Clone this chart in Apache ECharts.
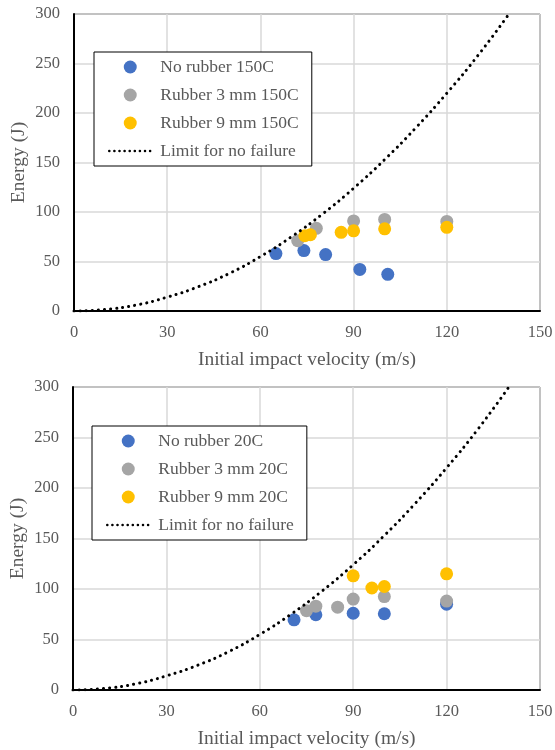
<!DOCTYPE html>
<html><head><meta charset="utf-8">
<script src="https://cdn.jsdelivr.net/npm/echarts@6/dist/echarts.min.js"></script>
<style>html,body{margin:0;padding:0;background:#fff}#c{width:555px;height:750px}</style>
</head><body><div id="c"></div>
<script>
// Panel 1 (150C)
const noRubber150 = [[65,58],[74,61],[81,57],[92,42],[101,37]];
const rubber3_150 = [[72,71],[78,83.5],[90,91],[100,92.5],[120,90.5]];
const rubber9_150 = [[74.3,76],[76.1,77],[86,79.5],[90,81],[100,83],[120,84.5]];
// Panel 2 (20C)
const noRubber20 = [[71,69.5],[78,74.5],[90,76],[100,75.5],[120,85]];
const rubber3_20 = [[75,78.5],[78,83],[85,82],[90,90],[100,92.5],[120,88]];
const rubber9_20 = [[90,113],[96,101],[100,102.5],[120,115]];
// Limit for no failure
const limitCurve = [[0,0],[10,1.5],[20,6],[30,14],[40,24.5],[50,38],[60,55],[70,75],[80,98],[90,124],[100,153],[110,185],[120,220],[130,258],[140,300]];

const names1 = ['No rubber 150C','Rubber 3 mm 150C','Rubber 9 mm 150C','Limit for no failure'];
const names2 = ['No rubber 20C','Rubber 3 mm 20C','Rubber 9 mm 20C','Limit for no failure'];
const colors = ['#4472C4','#A5A5A5','#FFC000'];
const xTicks = {min:0,max:150,interval:30};
const yTicks = {min:0,max:300,interval:50};

const font = 'Liberation Serif';
const grids = [
  {left:74,right:15,top:14,height:297},
  {left:73,right:15,top:387,height:303}
];
const chart = echarts.init(document.getElementById('c'));
function xAxis(i){return {gridIndex:i,type:'value',min:xTicks.min,max:xTicks.max,interval:xTicks.interval,
  name:'Initial impact velocity (m/s)',nameLocation:'middle',nameGap:39,
  nameTextStyle:{color:'#595959',fontFamily:font,fontSize:19.5},
  axisLine:{lineStyle:{color:'#000',width:2}},axisTick:{show:false},
  axisLabel:{color:'#595959',fontFamily:font,fontSize:16.5,margin:13},
  splitLine:{lineStyle:{color:'#D9D9D9',width:1.5}}};}
function yAxis(i){return {gridIndex:i,type:'value',min:yTicks.min,max:yTicks.max,interval:yTicks.interval,
  name:'Energy (J)',nameLocation:'middle',nameGap:45,nameMoveOverlap:false,
  nameTextStyle:{color:'#595959',fontFamily:font,fontSize:19.5},
  axisLine:{show:true,lineStyle:{color:'#000',width:2}},axisTick:{show:false},
  axisLabel:{color:'#595959',fontFamily:font,fontSize:16.5,margin:14},
  splitLine:{lineStyle:{color:'#D9D9D9',width:1.5}}};}
function seriesFor(i,names,sets){
  const s=[];
  sets.forEach((d,k)=>s.push({type:'scatter',name:names[k],xAxisIndex:i,yAxisIndex:i,data:d,symbolSize:13,
    itemStyle:{color:colors[k],opacity:1}}));
  s.push({type:'line',name:names[3],xAxisIndex:i,yAxisIndex:i,data:limitCurve,smooth:true,symbol:'none',
    lineStyle:{color:'#000',width:3,type:[0.1,6],cap:'round'},itemStyle:{color:'#000'}});
  return s;
}
function legend(names,left,top){return {show:true,orient:'vertical',left:left,top:top,
  data:[names[0],names[1],names[2],{name:names[3],itemStyle:{opacity:0},lineStyle:{width:2.5,type:[0.1,5],cap:'round'}}],
  itemWidth:42,itemHeight:13,itemGap:10,backgroundColor:'#fff',borderColor:'#000',borderWidth:1,
  padding:[6,13,6,14],
  textStyle:{color:'#595959',fontFamily:font,fontSize:17.5,padding:[0,0,0,4]}};}
chart.setOption({
  animation:false,
  grid:grids.map(g=>Object.assign({show:true,borderColor:'#000',borderWidth:1,outerBoundsMode:'none',containLabel:false},g)),
  xAxis:[xAxis(0),xAxis(1)],
  yAxis:[yAxis(0),yAxis(1)],
  legend:[legend(names1,94,52),legend(names2,92,426)],
  series:[...seriesFor(0,names1,[noRubber150,rubber3_150,rubber9_150]),...seriesFor(1,names2,[noRubber20,rubber3_20,rubber9_20])]
});
</script></body></html>
